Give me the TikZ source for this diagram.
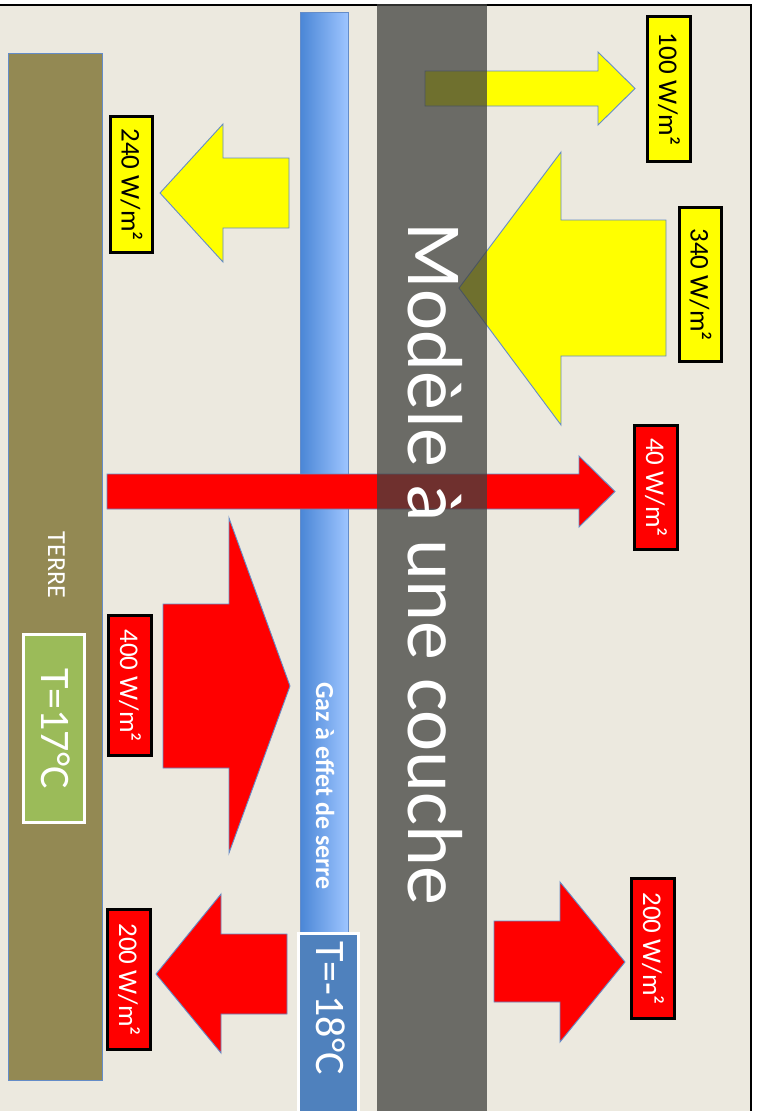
\documentclass[tikz,border=0pt]{standalone}
\usepackage{fontspec}
\setmainfont{Carlito}
\definecolor{bg}{RGB}{236,233,223}
\definecolor{earth}{RGB}{147,137,83}
\definecolor{edgeblue}{RGB}{100,140,200}
\definecolor{barL}{RGB}{74,134,214}
\definecolor{barR}{RGB}{158,197,255}
\definecolor{tblue}{RGB}{79,129,189}
\definecolor{tgreen}{RGB}{155,187,89}
\definecolor{band}{RGB}{64,65,62}
\definecolor{ared}{RGB}{255,0,0}
\definecolor{ayel}{RGB}{255,255,0}
\tikzset{
  yarrow/.style={fill=ayel, draw=edgeblue, line width=0.9pt},
  rarrow/.style={fill=ared, draw=edgeblue, line width=0.9pt},
  labbox/.style={rotate=-90, draw=black, line width=2.5pt, inner sep=0pt,
    font=\fontsize{27}{30}\selectfont},
  ylab/.style={labbox, fill=ayel, text=black},
  rlab/.style={labbox, fill=ared, text=white},
  vtext/.style={rotate=-90, text=white, inner sep=0pt},
}
\begin{document}
\begin{tikzpicture}[x=1pt,y=-1pt]
\useasboundingbox (0,0) rectangle (757,1111);
\clip (0,0) rectangle (757,1111);
% background and frame
\fill[bg] (0,5) rectangle (751,1111);
\draw[line width=2.5pt] (0,5) -- (751,5) -- (751,1112);
% earth
\draw[fill=earth, draw=edgeblue, line width=1pt] (8,53) rectangle (102,1080);
\draw[fill=tgreen, draw=white, line width=3pt] (23.5,634.5) rectangle (84.5,822.5);
% greenhouse gas layer
\shade[left color=barL, right color=barR] (300,12) rectangle (348,935);
\draw[edgeblue, line width=1pt] (300,12) rectangle (348,935);
\draw[fill=tblue, draw=white, line width=3pt] (298.5,933.5) rectangle (358.5,1125);
% yellow arrows
\draw[yarrow] (289,158) -- (223,158) -- (223,124) -- (160,193) -- (223,262) -- (223,228) -- (289,228) -- cycle;
\draw[yarrow] (425,71) -- (598,71) -- (598,52) -- (635,88.5) -- (598,125) -- (598,106) -- (425,106) -- cycle;
\draw[yarrow] (666,220) -- (561,220) -- (561,152) -- (459,288) -- (561,425) -- (561,356) -- (666,356) -- cycle;
% red arrows
\draw[rarrow] (107,474) -- (579,474) -- (579,456) -- (615,491.5) -- (579,527) -- (579,509) -- (107,509) -- cycle;
\draw[rarrow] (163,604) -- (229,604) -- (229,518) -- (290,686) -- (229,853) -- (229,768) -- (163,768) -- cycle;
\draw[rarrow] (287,934) -- (221,934) -- (221,894) -- (156,974) -- (221,1053) -- (221,1014) -- (287,1014) -- cycle;
\draw[rarrow] (494,921) -- (560,921) -- (560,882) -- (625,962) -- (560,1042) -- (560,1002) -- (494,1002) -- cycle;
% labels
\node[ylab, minimum width=136pt, minimum height=42pt] (l240) at (131.5,184.5) {240 W/m²};
\node[ylab, minimum width=145pt, minimum height=43pt] (l100) at (669,89) {100 W/m²};
\node[ylab, minimum width=154pt, minimum height=42pt] (l340) at (700.5,284.5) {340 W/m²};
\node[rlab, minimum width=124pt, minimum height=43pt] (l40) at (656,487.5) {40 W/m²};
\node[rlab, minimum width=140pt, minimum height=43pt] (l400) at (130,685.5) {400 W/m²};
\node[rlab, minimum width=140pt, minimum height=43pt] (l200a) at (129,979.5) {200 W/m²};
\node[rlab, minimum width=140pt, minimum height=43pt] (l200b) at (653,948.5) {200 W/m²};
% translucent band
\fill[band, fill opacity=0.75] (377,4) rectangle (487,1111);
% texts
\node[vtext, anchor=base, font=\fontsize{78}{80}\selectfont] (title) at (408,564) {Modèle à une couche};
\node[vtext, anchor=base, font=\fontsize{26}{28}\selectfont] (terre) at (48,565) {TERRE};
\node[vtext, anchor=base, font=\fontsize{42}{44}\selectfont] (t17) at (41,728.5) {T=17°C};
\node[vtext, anchor=base, font=\fontsize{42}{44}\selectfont] (t18) at (316,1008) {T=-18°C};
\node[vtext, anchor=base, font=\bfseries\fontsize{26}{28}\selectfont] (gaz) at (316,786) {Gaz à effet de serre};
\end{tikzpicture}
\end{document}
